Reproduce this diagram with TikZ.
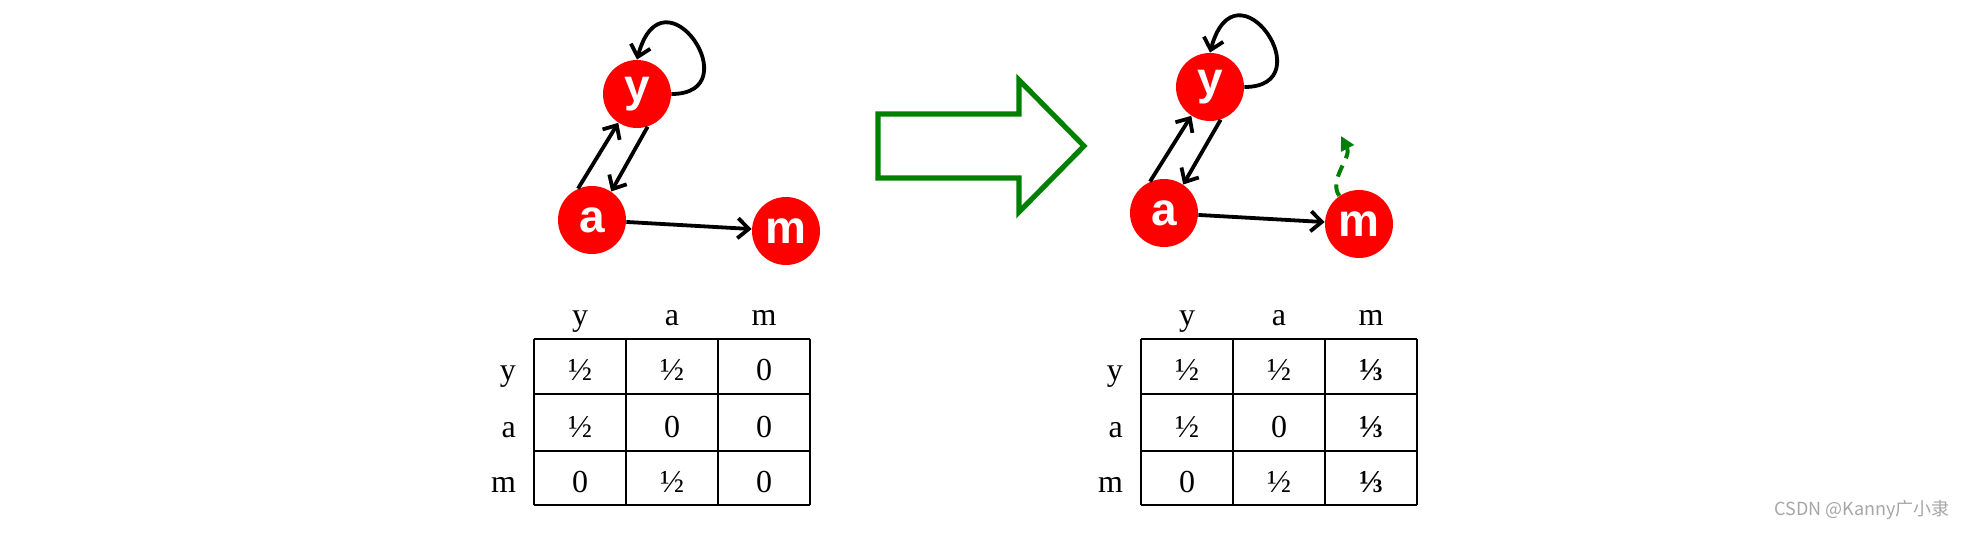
\documentclass[tikz,border=0pt]{standalone}
\usepackage{fontspec}
\setmainfont{Liberation Serif}
\newfontfamily\nodefont{Liberation Sans}
\newfontfamily\cjk{Noto Sans CJK SC}
\usetikzlibrary{arrows.meta}
\definecolor{nodered}{HTML}{FF0000}
\definecolor{flowgreen}{HTML}{008000}
\definecolor{markgray}{HTML}{A6A6A6}

\begin{document}
\begin{tikzpicture}[x=0.5pt,y=0.5pt,
  vertex/.style={circle,fill=nodered,minimum size=34pt,inner sep=0pt,text=white,font=\nodefont\bfseries\fontsize{23}{23}\selectfont},
  edge/.style={line width=1.9pt,-{Straight Barb[length=5.5pt,width=10pt,line width=1.9pt]}},
  teleport/.style={flowgreen,line width=2pt,dash pattern=on 6pt off 4pt,-{Triangle[length=7pt,width=7pt]}},
  gridline/.style={line width=1pt},
  cell/.style={anchor=base,font=\fontsize{16}{16}\selectfont}]
\useasboundingbox (0,0) rectangle (1972,532);
% left graph
\node[vertex] (y1) at (637,438) {y};
\node[vertex] (a1) at (592,312) {a};
\node[vertex] (m1) at (786,301) {m};
\draw[edge] (y1.east) to[out=0,in=75,out distance=40pt,in distance=50pt] (y1.north);
\draw[edge] (a1.114) -- (y1.237);
\draw[edge] (y1.288) -- (a1.56);
\draw[edge] (a1) -- (m1);
% left matrix
\foreach \x in {534,626,718,810} \draw[gridline] (\x,27) -- (\x,193);
\foreach \y in {27,81,138,193} \draw[gridline] (534,\y) -- (810,\y);
\foreach \t [count=\i] in {y,a,m} {
  \node[cell] (lh\i) at (488+92*\i,207) {\t};
}
\foreach \t/\b [count=\i] in {y/152,a/95,m/40} {
  \node[cell,anchor=base east] (lr\i) at (523,\b) {\t};
}
\foreach \p/\q/\s/\b [count=\i] in {½/½/0/152,½/0/0/95,0/½/0/40} {
  \node[cell] (l\i a) at (580,\b) {\p};
  \node[cell] (l\i b) at (672,\b) {\q};
  \node[cell] (l\i c) at (764,\b) {\s};
}
% big arrow
\draw[flowgreen,line width=2.6pt,miter limit=10] (878,418) -- (1019,418) -- (1019,452) -- (1084,386) -- (1019,320) -- (1019,354) -- (878,354) -- cycle;
% right graph
\node[vertex] (y2) at (1210,445) {y};
\node[vertex] (a2) at (1164,319) {a};
\node[vertex] (m2) at (1359,308) {m};
\coordinate (jump) at (1341,396);
\draw[edge] (y2.east) to[out=0,in=75,out distance=40pt,in distance=50pt] (y2.north);
\draw[edge] (a2.114) -- (y2.237);
\draw[edge] (y2.288) -- (a2.56);
\draw[edge] (a2) -- (m2);
\draw[teleport] (m2.125) .. controls (1328,352) and (1352,375) .. (jump);
% right matrix
\foreach \x in {1141,1233,1325,1417} \draw[gridline] (\x,27) -- (\x,193);
\foreach \y in {27,81,138,193} \draw[gridline] (1141,\y) -- (1417,\y);
\foreach \t [count=\i] in {y,a,m} {
  \node[cell] (rh\i) at (1095+92*\i,207) {\t};
}
\foreach \t/\b [count=\i] in {y/152,a/95,m/40} {
  \node[cell,anchor=base east] (rr\i) at (1130,\b) {\t};
}
\foreach \p/\q/\b [count=\i] in {½/½/152,½/0/95,0/½/40} {
  \node[cell] (r\i a) at (1187,\b) {\p};
  \node[cell] (r\i b) at (1279,\b) {\q};
  \node[cell] (r\i c) at (1371,\b) {\bfseries ⅓};
}
\node[markgray,font=\cjk\fontsize{9}{9}\selectfont,anchor=east] (mark) at (1957,22) {CSDN @Kanny广小隶};
\end{tikzpicture}
\end{document}
